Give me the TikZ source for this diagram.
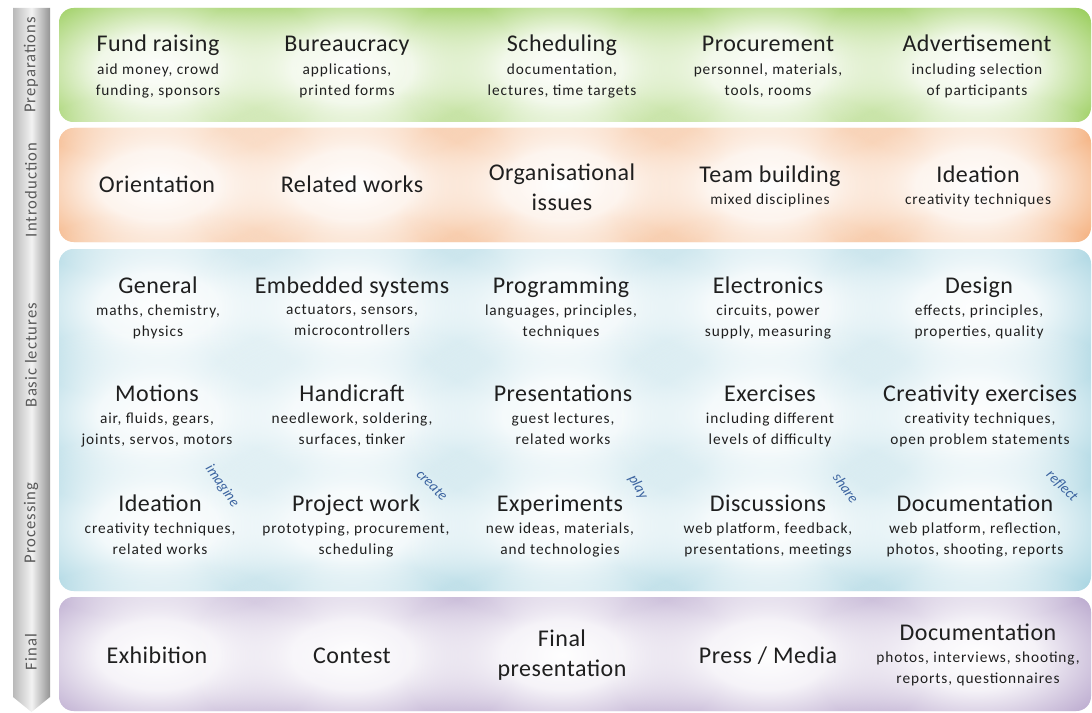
\documentclass[tikz,border=0pt]{standalone}
\usepackage{fontspec}
\setmainfont{Carlito}
\newfontfamily\ttlfont[LetterSpace=2]{Carlito}
\newfontfamily\subfont[LetterSpace=6]{Carlito}
\usetikzlibrary{positioning,fadings}

\definecolor{prepgreen}{RGB}{138,198,66}
\definecolor{introrange}{RGB}{243,162,102}
\definecolor{lectblue}{RGB}{160,209,223}
\definecolor{finpurple}{RGB}{176,156,199}
\definecolor{verbblue}{RGB}{60,100,160}
\definecolor{bargray}{RGB}{185,185,185}

\pgfdeclareradialshading{glowshade}{\pgfpointorigin}{color(0bp)=(pgftransparent!0);
  color(9bp)=(pgftransparent!12); color(25bp)=(pgftransparent!100); color(50bp)=(pgftransparent!100)}
\pgfdeclarefading{glowfade}{\pgfuseshading{glowshade}}

\tikzset{
  rowbox/.style={rounded corners=11pt},
  glow/.style={fill=white, path fading=glowfade},
  ttl/.style={anchor=base, inner sep=0pt, text height=12pt, text depth=3.5pt,
    font=\ttlfont\fontsize{18}{20}\selectfont, text=black!88},
  ttltwo/.style={inner sep=0pt, align=center,
    font=\ttlfont\fontsize{18}{22.5}\selectfont, text=black!88},
  sub/.style={below=5pt of #1, inner sep=0pt, align=center,
    font=\subfont\fontsize{11.5}{15.5}\selectfont, text=black!88},
  phase/.style={rotate=90, inner sep=0pt, font=\subfont\fontsize{12.5}{14}\selectfont, text=black!65},
  verb/.style={inner sep=0pt, font=\itshape\fontsize{11}{12}\selectfont, text=verbblue}
}

\begin{document}
\begin{tikzpicture}[x=0.75pt, y=-0.75pt]
  \useasboundingbox (0,0) rectangle (1092,713);

  % phase bar
  \path[left color=bargray, right color=bargray!80!black, middle color=gray!10]
    (13,8) -- (50,8) -- (50,697) -- (31.5,712) -- (13,697) -- cycle;
  \node[phase] (prep)  at (31,65)  {Preparations};
  \node[phase] (intro) at (31,190) {Introduction};
  \node[phase] (basic) at (31,355) {Basic lectures};
  \node[phase] (proc)  at (31,523) {Processing};
  \node[phase] (fin)   at (31,652) {Final};

  % rows
  \fill[rowbox, prepgreen]  (59,8)   rectangle (1091,122);
  \fill[rowbox, introrange] (59,128) rectangle (1091,242);
  \fill[rowbox, lectblue]   (59,249) rectangle (1091,591);
  \fill[rowbox, finpurple]  (59,597) rectangle (1091,711);

  \begin{scope}
    \clip[rowbox] (59,8) rectangle (1091,122) (59,128) rectangle (1091,242)
      (59,249) rectangle (1091,591) (59,597) rectangle (1091,711);
    \foreach \x in {158,352,562,768,976}
      \foreach \y in {68,185,307,415,525,655}
        \fill[glow] (\x,\y) ellipse [x radius=125pt, y radius=72pt];
  \end{scope}

  % preparations
  \node[ttl] (fund) at (158,52) {Fund raising};
  \node[sub=fund] (fundsub) {aid money, crowd\\funding, sponsors};
  \node[ttl] (bureau) at (347,52) {Bureaucracy};
  \node[sub=bureau] (bureausub) {applications,\\printed forms};
  \node[ttl] (sched) at (562,52) {Scheduling};
  \node[sub=sched] (schedsub) {documentation,\\lectures, time targets};
  \node[ttl] (procure) at (768,52) {Procurement};
  \node[sub=procure] (procuresub) {personnel, materials,\\tools, rooms};
  \node[ttl] (advert) at (977,52) {Advertisement};
  \node[sub=advert] (advertsub) {including selection\\of participants};

  % introduction
  \node[ttl] (orient) at (157,193) {Orientation};
  \node[ttl] (related) at (352,193) {Related works};
  \node[ttltwo] (organ) at (562,187) {Organisational\\issues};
  \node[ttl] (team) at (770,182) {Team building};
  \node[sub=team] (teamsub) {mixed disciplines};
  \node[ttl] (ideaone) at (978,182) {Ideation};
  \node[sub=ideaone] (ideaonesub) {creativity techniques};

  % basic lectures
  \node[ttl] (general) at (158,293) {General};
  \node[sub=general] (generalsub) {maths, chemistry,\\physics};
  \node[ttl] (embed) at (352,293) {Embedded systems};
  \node[sub=embed] (embedsub) {actuators, sensors,\\microcontrollers};
  \node[ttl] (prog) at (561,293) {Programming};
  \node[sub=prog] (progsub) {languages, principles,\\techniques};
  \node[ttl] (elec) at (768,293) {Electronics};
  \node[sub=elec] (elecsub) {circuits, power\\supply, measuring};
  \node[ttl] (design) at (979,293) {Design};
  \node[sub=design] (designsub) {effects, principles,\\properties, quality};

  \node[ttl] (motion) at (157,401) {Motions};
  \node[sub=motion] (motionsub) {air, fluids, gears,\\joints, servos, motors};
  \node[ttl] (handi) at (352,401) {Handicraft};
  \node[sub=handi] (handisub) {needlework, soldering,\\surfaces, tinker};
  \node[ttl] (present) at (563,401) {Presentations};
  \node[sub=present] (presentsub) {guest lectures,\\related works};
  \node[ttl] (exer) at (770,401) {Exercises};
  \node[sub=exer] (exersub) {including different\\levels of difficulty};
  \node[ttl] (creat) at (980,401) {Creativity exercises};
  \node[sub=creat] (creatsub) {creativity techniques,\\open problem statements};

  % processing
  \node[ttl] (ideatwo) at (160,511) {Ideation};
  \node[sub=ideatwo] (ideatwosub) {creativity techniques,\\related works};
  \node[ttl] (project) at (356,511) {Project work};
  \node[sub=project] (projectsub) {prototyping, procurement,\\scheduling};
  \node[ttl] (experi) at (560,511) {Experiments};
  \node[sub=experi] (experisub) {new ideas, materials,\\and technologies};
  \node[ttl] (discuss) at (768,511) {Discussions};
  \node[sub=discuss] (discusssub) {web platform, feedback,\\presentations, meetings};
  \node[ttl] (docone) at (975,511) {Documentation};
  \node[sub=docone] (doconesub) {web platform, reflection,\\photos, shooting, reports};

  \node[verb, rotate=-55] (imagine) at (222,486) {imagine};
  \node[verb, rotate=-45] (create)  at (432,485) {create};
  \node[verb, rotate=-60] (play)    at (638,487) {play};
  \node[verb, rotate=-55] (share)   at (846,488) {share};
  \node[verb, rotate=-45] (reflect) at (1062,486) {reflect};

  % final
  \node[ttl] (exhib) at (157,663) {Exhibition};
  \node[ttl] (contest) at (352,663) {Contest};
  \node[ttltwo] (finpres) at (562,655) {Final\\presentation};
  \node[ttl] (press) at (768,663) {Press / Media};
  \node[ttl] (doctwo) at (978,640) {Documentation};
  \node[sub=doctwo] (doctwosub) {photos, interviews, shooting,\\reports, questionnaires};

\end{tikzpicture}
\end{document}
